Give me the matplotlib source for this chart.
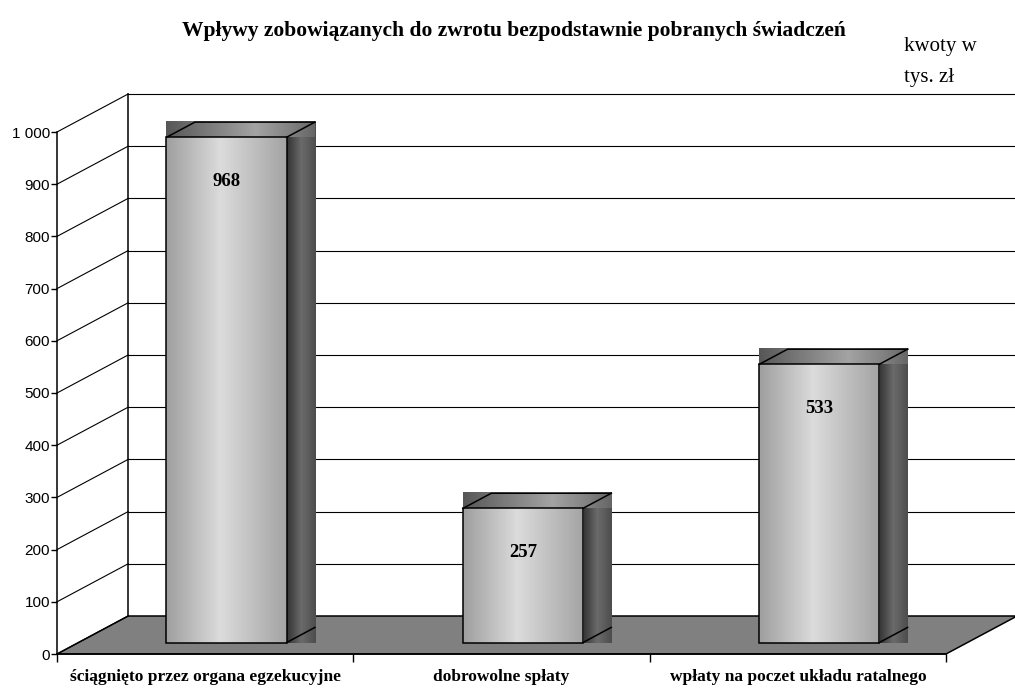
import numpy as np
import matplotlib
matplotlib.use("Agg")
import matplotlib.pyplot as plt
from matplotlib.patches import Polygon, Rectangle
from matplotlib.ticker import FuncFormatter

categories = [
    "ściągnięto przez organa egzekucyjne",
    "dobrowolne spłaty",
    "wpłaty na poczet układu ratalnego",
]
values = [968, 257, 533]
y_ticks = list(range(0, 1001, 100))
title = "Wpływy zobowiązanych do zwrotu bezpodstawnie pobranych świadczeń"
unit_note = "kwoty w\ntys. zł"

# pseudo-3D geometry (data units)
DX, DY = 0.24, 72.8        # depth offset of the back wall
BAR_W = 0.405
F0, FD = 0.3, 0.4          # bar front offset and depth, as fraction of DX/DY

SERIF = ["Liberation Serif", "DejaVu Serif"]
SANS = ["Liberation Sans", "DejaVu Sans"]


def gradient(ax, x0, x1, y0, y1, pos, vals, z):
    g = np.interp(np.linspace(0, 1, 256), pos, vals).reshape(1, -1)
    ax.imshow(g, cmap="gray", vmin=0, vmax=1, extent=[x0, x1, y0, y1],
              aspect="auto", interpolation="bilinear", zorder=z)


def draw_bar(ax, i, v):
    xl = i + 0.5 - BAR_W / 2 + F0 * DX
    xr = xl + BAR_W
    y0 = F0 * DY
    yt = v + F0 * DY
    dx, dy = FD * DX, FD * DY
    # side and top (filled as bounding boxes, like the original renderer)
    gradient(ax, xr, xr + dx, y0, yt + dy, [0, 0.5, 1], [0.2, 0.42, 0.3], 3)
    gradient(ax, xl, xr + dx, yt, yt + dy, [0, 0.6, 0.85, 1],
             [0.34, 0.64, 0.5, 0.4], 3.5)
    # front face
    gradient(ax, xl, xr, y0, yt, [0, 0.45, 1], [0.62, 0.86, 0.64], 4)
    ax.add_patch(Rectangle((xl, y0), BAR_W, v, fill=False, ec="black",
                           lw=1.1, zorder=5))
    kw = dict(color="black", lw=1.1, zorder=5)
    ax.plot([xl, xl + dx, xr + dx], [yt, yt + dy, yt + dy], **kw)
    ax.plot([xr, xr + dx], [yt, yt + dy], **kw)
    ax.plot([xr, xr + dx], [y0, y0 + dy], **kw)
    ax.annotate(f"{v}", (i + 0.5 + F0 * DX, yt), xytext=(0, -32),
                textcoords="offset points", ha="center", va="center",
                fontsize=13.5, fontweight="bold", family=SERIF, zorder=6)


fig = plt.figure(figsize=(10.15, 6.88), dpi=100)
ax = fig.add_axes([0, 0, 1, 1])
ax.set_xlim(-57 / 296.33, (1015 - 57) / 296.33)
ax.set_ylim(-(688 - 654) / 0.522, 654 / 0.522)

n = len(categories)

# floor
ax.add_patch(Polygon([(0, 0), (n, 0), (n + DX, DY), (DX, DY)],
                     closed=True, fc="#808080", ec="black", lw=1.1, zorder=1))

# back wall and side wall grid
for t in y_ticks:
    if t > 0:
        ax.plot([DX, n + DX], [t + DY, t + DY], color="black", lw=0.8, zorder=0.5)
    ax.plot([0, DX], [t, t + DY], color="black", lw=0.8, zorder=1.5)
ax.plot([DX, DX], [DY, y_ticks[-1] + DY], color="black", lw=1.1, zorder=1.5)

for i, v in enumerate(values):
    draw_bar(ax, i, v)

# axes as spines
for s in ["top", "right"]:
    ax.spines[s].set_visible(False)
ax.spines["left"].set_position(("data", 0))
ax.spines["left"].set_bounds(0, y_ticks[-1])
ax.spines["bottom"].set_position(("data", 0))
ax.spines["bottom"].set_bounds(0, n)
for s in ["left", "bottom"]:
    ax.spines[s].set_linewidth(1.1)
    ax.spines[s].set_zorder(6)

ax.set_yticks(y_ticks)
ax.yaxis.set_major_formatter(FuncFormatter(lambda x, p: f"{int(x):,}".replace(",", " ")))
ax.tick_params(axis="y", direction="out", length=4, width=1, pad=1, labelsize=11)
for lab in ax.get_yticklabels():
    lab.set_family(SANS)

ax.set_xticks(range(n + 1))
ax.set_xticklabels([])
ax.set_xticks([i + 0.5 for i in range(n)], minor=True)
ax.set_xticklabels(categories, minor=True, fontsize=12.5, fontweight="bold", family=SERIF)
ax.tick_params(axis="x", which="major", direction="out", length=6, width=1)
ax.tick_params(axis="x", which="minor", length=0, pad=11)

fig.text(0.506, 0.955, title, ha="center", va="center", fontsize=15.5,
         fontweight="bold", family=SERIF)
fig.text(0.891, 0.946, unit_note, ha="left", va="top", fontsize=15,
         family=SERIF, linespacing=1.85)

fig.savefig("out.png", dpi=100)
